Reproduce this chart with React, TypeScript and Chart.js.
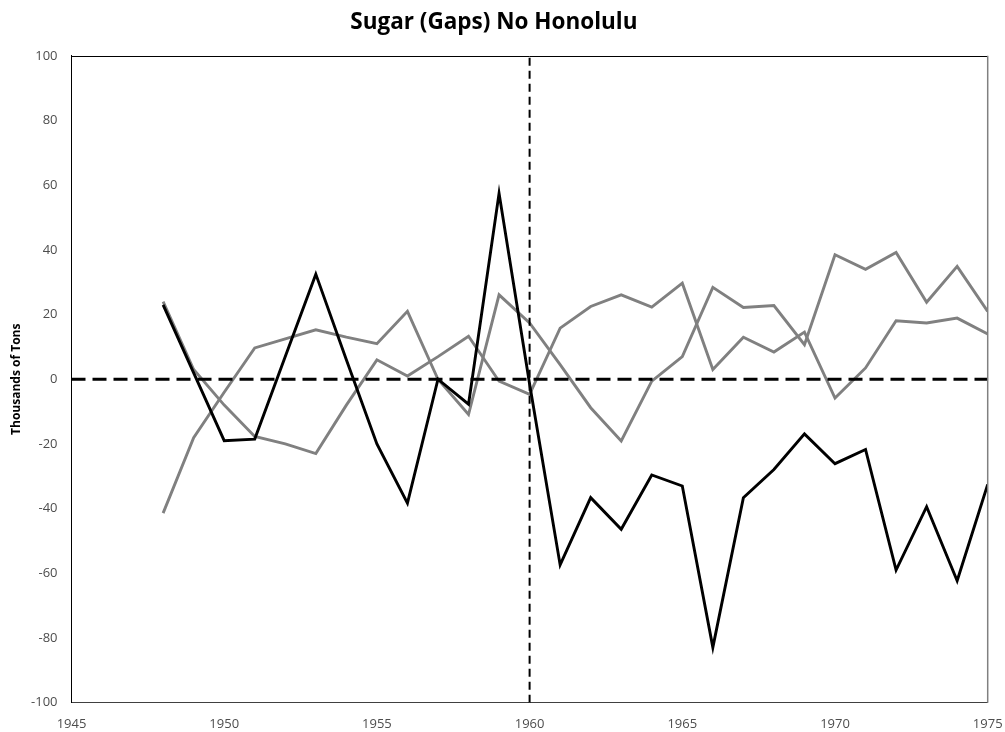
import React, { useEffect, useRef } from "react";
import { Chart, registerables } from "chart.js";

Chart.register(...registerables);

const years = [
  1948, 1949, 1950, 1951, 1952, 1953, 1954, 1955, 1956, 1957, 1958, 1959, 1960, 1961,
  1962, 1963, 1964, 1965, 1966, 1967, 1968, 1969, 1970, 1971, 1972, 1973, 1974, 1975,
];

const blackSeries = [
  23, 2, -19, -18.5, 7, 32.5, 6, -20, -38.3, 0, -7.7, 57.5, -1.5, -57.4,
  -36.6, -46.4, -29.6, -33, -82.9, -36.6, -27.9, -16.9, -26.1, -21.7, -59, -39.4, -62.3, -32.5,
];

const grayA = [
  24, 3, -8, -17.7, -20, -23, -8, 6, 1, 7, 13.3, -0.6, -4.7, 15.8,
  22.5, 26.1, 22.3, 29.7, 3, 13, 8.4, 14.6, -5.8, 3.5, 18.1, 17.4, 18.9, 14,
];

const grayB = [
  -41.4, -18.1, -4, 9.7, 12.5, 15.3, 13, 11, 21, 0, -10.9, 26.1, 17.4, 4.5,
  -8.8, -19.1, -0.6, 7, 28.4, 22.2, 22.8, 10.7, 38.5, 34, 39.2, 23.8, 34.9, 21,
];

const xTicks = [1945, 1950, 1955, 1960, 1965, 1970, 1975];
const yTicks = [-100, -80, -60, -40, -20, 0, 20, 40, 60, 80, 100];
const zeroLineYears = [1945, 1975];
const dividerYear = 1960;
const dividerRange = [-100, 100];

const toPoints = (vals: number[]) => vals.map((v, i) => ({ x: years[i], y: v }));

const framePlugin = {
  id: "frame",
  afterDatasetsDraw(chart: any) {
    const { ctx, chartArea } = chart;
    ctx.save();
    ctx.strokeStyle = "#000000";
    ctx.lineWidth = 1;
    ctx.beginPath();
    ctx.moveTo(chartArea.left, Math.round(chartArea.top) + 0.5);
    ctx.lineTo(chartArea.right, Math.round(chartArea.top) + 0.5);
    ctx.stroke();
    ctx.strokeStyle = "#808080";
    ctx.lineWidth = 1.5;
    ctx.beginPath();
    ctx.moveTo(chartArea.right, chartArea.top);
    ctx.lineTo(chartArea.right, chartArea.bottom);
    ctx.stroke();
    ctx.restore();
  },
};

export default function App() {
  const ref = useRef<HTMLCanvasElement | null>(null);

  useEffect(() => {
    if (!ref.current) return;
    const chart = new Chart(ref.current, {
      type: "line",
      data: {
        datasets: [
          {
            label: "divider",
            data: dividerRange.map((y) => ({ x: dividerYear, y })),
            borderColor: "#000000",
            borderWidth: 2,
            borderDash: [8, 5],
            pointRadius: 0,
          },
          {
            label: "zero",
            data: zeroLineYears.map((x) => ({ x, y: 0 })),
            borderColor: "#000000",
            borderWidth: 3,
            borderDash: [14, 7],
            pointRadius: 0,
          },
          {
            label: "black",
            data: toPoints(blackSeries),
            borderColor: "#000000",
            borderWidth: 2.9,
            pointRadius: 0,
            tension: 0,
          },
          {
            label: "grayA",
            data: toPoints(grayA),
            borderColor: "#808080",
            borderWidth: 2.9,
            pointRadius: 0,
            tension: 0,
          },
          {
            label: "grayB",
            data: toPoints(grayB),
            borderColor: "#808080",
            borderWidth: 2.9,
            pointRadius: 0,
            tension: 0,
          },
        ],
      },
      options: {
        animation: false,
        responsive: false,
        layout: { padding: { left: 0, top: 0, right: 17.3, bottom: 0 } },
        plugins: {
          legend: { display: false },
          tooltip: { enabled: false },
          title: {
            display: true,
            text: "Sugar (Gaps) No Honolulu",
            color: "#000000",
            font: { family: "Open Sans", size: 22.5, weight: "bold" },
            padding: { top: 9, bottom: 19.8 },
          },
        },
        scales: {
          x: {
            type: "linear",
            min: 1945,
            max: 1975,
            grid: { display: false, drawTicks: false },
            border: { display: true, color: "#404040", width: 1 },
            afterBuildTicks: (scale: any) => {
              scale.ticks = xTicks.map((v) => ({ value: v }));
            },
            afterFit: (scale: any) => {
              scale.height = 29.3;
              scale.paddingLeft = 0;
              scale.paddingRight = 0;
            },
            ticks: {
              padding: 14,
              color: "#4d4d4d",
              font: { family: "Open Sans", size: 13 },
              maxRotation: 0,
              callback: (v: any) => String(v),
            },
          },
          y: {
            type: "linear",
            min: -100,
            max: 100,
            grid: { display: false, drawTicks: false },
            border: { display: true, color: "#000000", width: 1 },
            afterBuildTicks: (scale: any) => {
              scale.ticks = yTicks.map((v) => ({ value: v }));
            },
            afterFit: (scale: any) => {
              scale.width = 71.5;
            },
            ticks: {
              padding: 14,
              color: "#4d4d4d",
              font: { family: "Open Sans", size: 13 },
              callback: (v: any) => String(v),
            },
            title: {
              display: true,
              text: "Thousands of Tons",
              color: "#000000",
              font: { family: "Open Sans", size: 12, weight: "bold" },
              padding: { top: 9.5, bottom: 0 },
            },
          },
        },
      },
      plugins: [framePlugin],
    });
    return () => chart.destroy();
  }, []);

  return (
    <div style={{ position: "absolute", left: 0, top: 0, width: 1005, height: 732, background: "#ffffff" }}>
      <canvas ref={ref} width={1005} height={732} style={{ display: "block" }} />
    </div>
  );
}
